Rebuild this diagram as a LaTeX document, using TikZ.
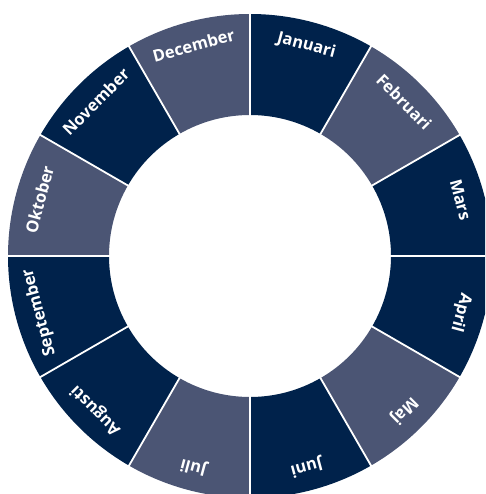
\documentclass[tikz,border=0pt]{standalone}
\usepackage{fontspec}
\setmainfont{Open Sans}
\begin{document}
\begin{tikzpicture}[x=1pt,y=1pt,
  lbl/.style={text=white,font=\fontsize{16.5}{18}\selectfont\bfseries,inner sep=0pt}]
\definecolor{darkseg}{HTML}{00224B}
\definecolor{lightseg}{HTML}{4B5574}
\useasboundingbox (-250,-238) rectangle (235,256);
\clip (-250,-238) rectangle (235,256);
\def\rin{141pt}
\def\rout{242pt}
\foreach \i/\name/\col in {1/Januari/darkseg,2/Februari/lightseg,3/Mars/darkseg,4/April/darkseg,5/Maj/lightseg,6/Juni/darkseg,7/Juli/lightseg,8/Augusti/darkseg,9/September/darkseg,10/Oktober/lightseg,11/November/darkseg,12/December/lightseg}{
  \pgfmathsetmacro{\a}{90-30*(\i-1)}
  \pgfmathsetmacro{\b}{90-30*\i}
  \pgfmathsetmacro{\m}{75-30*(\i-1)}
  \fill[\col] (\a:\rin) arc[start angle=\a,end angle=\b,radius=\rin] -- (\b:\rout) arc[start angle=\b,end angle=\a,radius=\rout] -- cycle;
  \node[lbl,rotate=\m-90] (m\i) at (\m:218pt) {\name};
}
\foreach \i in {0,...,11}{
  \coordinate (p\i) at (90-30*\i:\rin-1pt);
  \coordinate (q\i) at (90-30*\i:\rout+1pt);
  \draw[white,line width=1.8pt] (p\i) -- (q\i);
}
\end{tikzpicture}
\end{document}
